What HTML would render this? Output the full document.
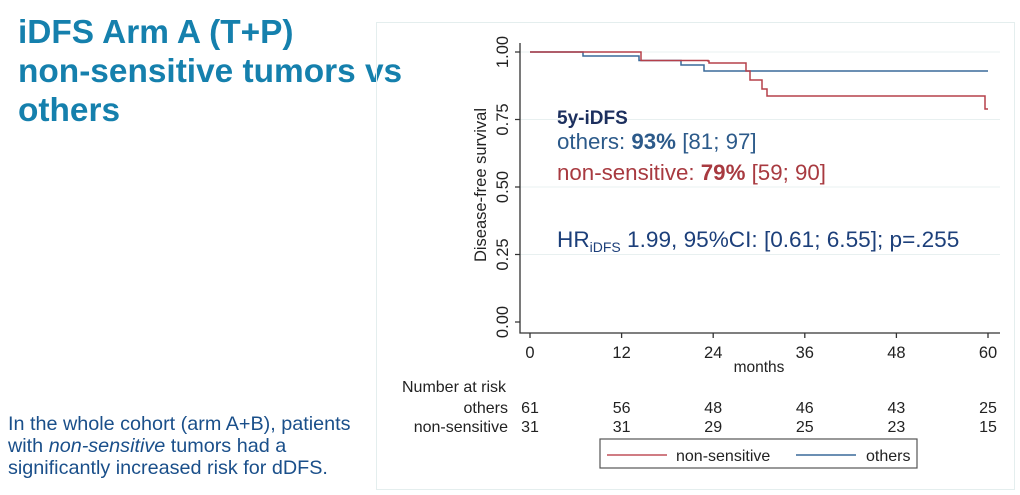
<!DOCTYPE html>
<html><head><style>
body{margin:0;width:1020px;height:495px;background:#fff;overflow:hidden;font-family:"Liberation Sans",sans-serif;position:relative}
.t{position:absolute;left:18px;top:13px;color:#1580ad;font-weight:bold;font-size:33.4px;line-height:39px}
.b{position:absolute;left:8px;top:413px;color:#1a4f8a;font-size:19.8px;line-height:22px}
</style></head><body>
<div class="t">iDFS Arm A (T+P)<br>non-sensitive tumors vs<br>others</div>
<div class="b">In the whole cohort (arm A+B), patients<br>with <i>non-sensitive</i> tumors had a<br>significantly increased risk for dDFS.</div>
<svg width="1020" height="495" style="position:absolute;left:0;top:0" font-family="Liberation Sans, sans-serif">
<rect x="376.5" y="22.5" width="638" height="467" fill="none" stroke="#e4eeee"/>
<g stroke="#e8f0f0" stroke-width="1">
<line x1="520" x2="1000" y1="52" y2="52"/><line x1="520" x2="1000" y1="119.5" y2="119.5"/><line x1="520" x2="1000" y1="187" y2="187"/><line x1="520" x2="1000" y1="254.5" y2="254.5"/>
</g>
<g stroke="#333" stroke-width="1.3" fill="none">
<path d="M520 43V333H1000"/>
<path d="M515 52H520M515 119.5H520M515 187H520M515 254.5H520M515 322H520"/>
<path d="M530 333v5M621.6 333v5M713.2 333v5M804.8 333v5M896.4 333v5M988 333v5"/>
</g>
<g font-size="16.5" fill="#222" text-anchor="middle">
<text transform="translate(508,52) rotate(-90)">1.00</text>
<text transform="translate(508,119.5) rotate(-90)">0.75</text>
<text transform="translate(508,187) rotate(-90)">0.50</text>
<text transform="translate(508,254.5) rotate(-90)">0.25</text>
<text transform="translate(508,322) rotate(-90)">0.00</text>
<text transform="translate(486,185) rotate(-90)" font-size="16.5">Disease-free survival</text>
<text x="530" y="358">0</text><text x="621.6" y="358">12</text><text x="713.2" y="358">24</text><text x="804.8" y="358">36</text><text x="896.4" y="358">48</text><text x="988" y="358">60</text>
<text x="759" y="372" font-size="15.5">months</text>
</g>
<path d="M530 52H583V56H639V60.5H681V65H704V71H988" fill="none" stroke="#3a6a9a" stroke-width="1.5"/>
<path d="M530 52H641V60.5H708V61H709V63H746V71H750V80H762V89H767V96H985V109H988" fill="none" stroke="#b5404a" stroke-width="1.5"/>
<text x="557" y="124" font-size="19" font-weight="bold" fill="#1c2f5e">5y-iDFS</text>
<text x="557" y="149" font-size="22.3" fill="#2c5a8a">others: <tspan font-weight="bold">93%</tspan> [81; 97]</text>
<text x="557" y="180" font-size="22.3" fill="#a83a40">non-sensitive: <tspan font-weight="bold">79%</tspan> [59; 90]</text>
<text x="557" y="247" font-size="22.6" fill="#1c3f7a">HR<tspan font-size="14" dy="5">iDFS</tspan><tspan dy="-5"> 1.99, 95%CI: [0.61; 6.55]; p=.255</tspan></text>
<g font-size="16" fill="#222">
<text x="402" y="392">Number at risk</text>
<g text-anchor="end"><text x="508" y="413">others</text><text x="508" y="432">non-sensitive</text></g>
<g text-anchor="middle">
<text x="530" y="413">61</text><text x="621.6" y="413">56</text><text x="713.2" y="413">48</text><text x="804.8" y="413">46</text><text x="896.4" y="413">43</text><text x="988" y="413">25</text>
<text x="530" y="432">31</text><text x="621.6" y="432">31</text><text x="713.2" y="432">29</text><text x="804.8" y="432">25</text><text x="896.4" y="432">23</text><text x="988" y="432">15</text>
</g>
</g>
<rect x="600" y="439" width="317" height="29" fill="#fff" stroke="#555" stroke-width="1.2"/>
<line x1="607" x2="667" y1="455" y2="455" stroke="#c0505a" stroke-width="1.5"/>
<line x1="796" x2="856" y1="455" y2="455" stroke="#3a6a9a" stroke-width="1.5"/>
<g font-size="16" fill="#222"><text x="676" y="461">non-sensitive</text><text x="866" y="461">others</text></g>
</svg>
</body></html>
